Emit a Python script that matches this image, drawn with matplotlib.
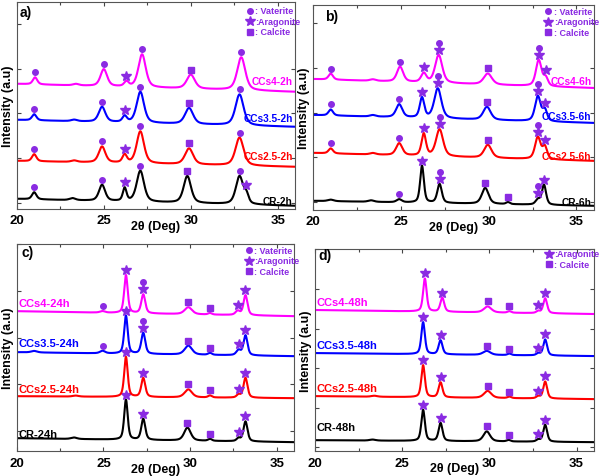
import numpy as np
import matplotlib
matplotlib.use('Agg')
import matplotlib.pyplot as plt
from matplotlib.ticker import MultipleLocator

plt.rcParams['font.family'] = ['Liberation Sans', 'DejaVu Sans']
plt.rcParams['font.weight'] = 'bold'

# peak lists: (2theta, height, fwhm, phases)
# phases: v = vaterite, a = aragonite, c = calcite, '' = no marker
# heights / baselines in pixel-like units of each panel
labels_a = ['CR-2h', 'CCs2.5-2h', 'CCs3.5-2h', 'CCs4-2h']
base_a = [(10, 3), (48, 42), (89, 82), (125, 117)]
peaks_a = [
    [(21.0, 7, 0.3, 'v'), (23.2, 2, 0.4, ''), (24.9, 16, 0.42, 'v'), (26.2, 13, 0.25, 'a'),
     (27.1, 31, 0.5, 'v'), (29.8, 27, 0.5, 'c'), (32.8, 28, 0.5, 'v'), (33.2, 8, 0.3, 'a')],
    [(21.0, 7, 0.3, 'v'), (23.3, 1.5, 0.4, ''), (24.9, 16, 0.45, 'v'), (26.2, 8, 0.3, 'a'),
     (27.1, 32, 0.5, 'v'), (29.9, 16, 0.55, 'c'), (32.8, 28, 0.55, 'v')],
    [(21.0, 6, 0.3, 'v'), (23.3, 1.5, 0.4, ''), (24.9, 15, 0.45, 'v'), (26.2, 6, 0.3, 'a'),
     (27.1, 31, 0.5, 'v'), (29.9, 16, 0.55, 'c'), (32.8, 31, 0.55, 'v')],
    [(21.05, 7, 0.3, 'v'), (23.4, 1.5, 0.4, ''), (25.0, 17, 0.45, 'v'), (26.3, 5, 0.3, 'a'),
     (27.2, 33, 0.5, 'v'), (30.0, 14, 0.55, 'c'), (32.9, 33, 0.55, 'v')],
]

labels_b = ['CR-6h', 'CCs2.5-6h', 'CCs3.5-6h', 'CCs4-6h']
base_b = [(9, 4), (57, 49), (95, 87), (131, 122)]
peaks_b = [
    [(21.0, 1.5, 0.4, ''), (23.3, 1.5, 0.4, ''), (24.9, 3, 0.35, 'v'), (26.2, 37, 0.25, 'a'),
     (27.2, 19, 0.3, 'va'), (29.8, 16, 0.45, 'c'), (31.1, 2, 0.25, 'c'), (32.8, 5, 0.3, 'va'),
     (33.15, 20, 0.28, 'a')],
    [(21.0, 5, 0.3, 'v'), (23.4, 1.5, 0.4, ''), (24.9, 12, 0.42, 'v'), (26.3, 22, 0.3, 'a'),
     (27.2, 27, 0.48, 'va'), (29.95, 13, 0.5, 'c'), (32.8, 22, 0.38, 'va'), (33.2, 12, 0.3, 'a')],
    [(21.0, 6, 0.3, 'v'), (23.4, 1.5, 0.4, ''), (24.9, 13, 0.42, 'v'), (26.2, 20, 0.3, 'a'),
     (27.1, 30, 0.48, 'va'), (29.9, 13, 0.5, 'c'), (32.8, 25, 0.38, 'va'), (33.2, 11, 0.3, 'a')],
    [(21.0, 6, 0.3, 'v'), (23.4, 1.5, 0.4, ''), (24.95, 15, 0.42, 'v'), (26.3, 9, 0.35, 'a'),
     (27.15, 28, 0.48, 'va'), (29.95, 11, 0.55, 'c'), (32.85, 26, 0.38, 'va'), (33.25, 8, 0.3, 'a')],
]

labels_c = ['CR-24h', 'CCs2.5-24h', 'CCs3.5-24h', 'CCs4-24h']
base_c = [(13, 9), (55, 53), (99, 95), (140, 135)]
peaks_c = [
    [(23.3, 1.5, 0.4, ''), (26.3, 40, 0.24, 'a'), (27.3, 21, 0.27, 'a'), (29.85, 13, 0.45, 'c'),
     (31.15, 2, 0.25, 'c'), (32.8, 3, 0.25, 'a'), (33.2, 20, 0.27, 'a')],
    [(23.4, 1, 0.4, ''), (26.3, 40, 0.24, 'a'), (27.3, 19, 0.27, 'a'), (29.9, 8, 0.5, 'c'),
     (31.15, 2, 0.25, 'c'), (32.8, 3, 0.25, 'a'), (33.2, 20, 0.27, 'a')],
    [(21.0, 1.5, 0.4, ''), (24.95, 2.5, 0.35, 'v'), (26.3, 38, 0.24, 'a'), (27.3, 21, 0.27, 'va'),
     (29.9, 9, 0.5, 'c'), (31.15, 2, 0.25, 'c'), (32.8, 5, 0.3, 'a'), (33.2, 20, 0.27, 'a')],
    [(24.95, 1.5, 0.35, 'v'), (26.3, 38, 0.24, 'a'), (27.3, 19, 0.27, 'va'), (29.9, 7, 0.5, 'c'),
     (31.15, 1.5, 0.25, 'c'), (32.75, 4, 0.3, 'a'), (33.2, 20, 0.27, 'a')],
]

labels_d = ['CR-48h', 'CCs2.5-48h', 'CCs3.5-48h', 'CCs4-48h']
base_d = [(11, 9), (55, 52), (98, 95), (141, 137)]
peaks_d = [
    [(23.3, 1, 0.4, ''), (26.2, 31, 0.24, 'a'), (27.2, 18, 0.26, 'a'), (29.85, 10, 0.45, 'c'),
     (31.1, 1.5, 0.25, 'c'), (32.8, 2, 0.25, 'a'), (33.2, 17, 0.26, 'a')],
    [(23.4, 1, 0.4, ''), (26.2, 32, 0.24, 'a'), (27.2, 15, 0.26, 'a'), (29.9, 7, 0.5, 'c'),
     (31.15, 1.5, 0.25, 'c'), (32.8, 2, 0.25, 'a'), (33.2, 17, 0.26, 'a')],
    [(26.2, 32, 0.24, 'a'), (27.2, 14, 0.26, 'a'), (29.85, 4, 0.5, 'c'),
     (31.15, 1.5, 0.25, 'c'), (32.8, 2, 0.25, 'a'), (33.2, 16, 0.26, 'a')],
    [(26.3, 33, 0.24, 'a'), (27.3, 14, 0.26, 'a'), (29.9, 6, 0.5, 'c'),
     (31.15, 1.5, 0.25, 'c'), (32.8, 2, 0.25, 'a'), (33.2, 15, 0.26, 'a')],
]

colors = ['black', 'red', 'blue', 'magenta']
purple = '#8a2be2'
mk = {'v': ('o', 4.0), 'a': ('*', 7.5), 'c': ('s', 3.8)}
legend_names = {'v': ': Vaterite', 'a': ':Aragonite', 'c': ': Calcite'}

fig = plt.figure(figsize=(6, 4.77), dpi=100)

# letter, letter pos, axes box, ylim top, y tick start/step, label side, label offsets,
# labels, baselines, peaks, legend keys, legend top y
panels = [
    ('a)', (20.17, 10), [0.028, 0.560, 0.464, 0.434], 207, 6, 44.75, 'right', [5, 11, 9, 11],
     labels_a, base_a, peaks_a, 'vac', 198),
    ('b)', (20.68, 11), [0.522, 0.558, 0.468, 0.429], 205, 8, 44.75, 'right', [4, 5, 7, 7],
     labels_b, base_b, peaks_b, 'vac', 199),
    ('c)', (20.3, 8), [0.028, 0.052, 0.462, 0.434], 207, 20, 46.7, 'left', [4, 7, 9, 8],
     labels_c, base_c, peaks_c, 'vac', 201),
    ('d)', (20.17, 6), [0.525, 0.052, 0.465, 0.424], 202, 4, 39.5, 'left', [13, 8, 8, 8],
     labels_d, base_d, peaks_d, 'ac', 197),
]

x = np.linspace(20, 36, 1600)
for letter, lpos, box, ytop, y0, dy, side, loffs, labels, bases, peaks, keys, leg_y in panels:
    ax = fig.add_axes(box)
    for i in range(4):
        b0, b1 = bases[i]
        y = b0 + (b1 - b0) * (x - 20) / 16
        for c, h, w, ph in peaks[i]:
            u = (x - c) / (w / 2)
            # pseudo-Voigt profile
            y = y + h * (0.5 / (1 + u ** 2) + 0.5 * np.exp(-np.log(2) * u ** 2))
        ax.plot(x, y, color=colors[i], lw=1.5)
        # phase markers above peaks
        for c, h, w, ph in peaks[i]:
            if not ph:
                continue
            top = np.interp(c, x, y)
            off = 5
            for p in reversed(ph):
                m, s = mk[p]
                ax.plot(c, top + off, marker=m, ms=s, color=purple, mec=purple, ls='none')
                off += 7
        if side == 'right':
            ax.text(35.85, b1 + loffs[i], labels[i], color=colors[i], fontsize=7.3,
                    fontweight='bold', ha='right', va='center')
        else:
            ax.text(20.1, b0 + loffs[i], labels[i], color=colors[i], fontsize=8,
                    fontweight='bold', ha='left', va='center')
    # phase legend
    ly = leg_y
    for k in keys:
        m, s = mk[k]
        ax.plot(33.4, ly, marker=m, ms=s, color=purple, mec=purple, ls='none')
        ax.text(33.7, ly, legend_names[k], color=purple, fontsize=6.5, fontweight='bold',
                va='center', ha='left')
        ly -= 10.5
    ax.text(lpos[0], ytop - lpos[1], letter, fontsize=10, fontweight='bold', va='center')
    ax.set_xlim(20, 36)
    ax.set_ylim(0, ytop)
    ax.set_yticks(np.arange(y0, ytop, dy))
    ax.set_yticklabels([])
    ax.xaxis.set_major_locator(MultipleLocator(5))
    ax.xaxis.set_minor_locator(MultipleLocator(2.5))
    ax.tick_params(which='both', direction='in', top=True, right=True, length=3,
                   width=0.8, color='#444444', labelsize=9.5, pad=4)
    ax.tick_params(which='minor', length=2)
    for lbl in ax.get_xticklabels():
        lbl.set_fontweight('bold')
    for sp in ax.spines.values():
        sp.set_color('#555555')
        sp.set_linewidth(0.8)
    ax.set_xlabel('2θ (Deg)', fontsize=9, fontweight='bold', va='center')
    ax.xaxis.set_label_coords(0.5, -0.085)
    ax.set_ylabel('Intensity (a.u)', fontsize=9, fontweight='bold', va='center')
    ax.yaxis.set_label_coords(-9 / (box[2] * 600), 0.5)

fig.savefig('out.png', dpi=100)
